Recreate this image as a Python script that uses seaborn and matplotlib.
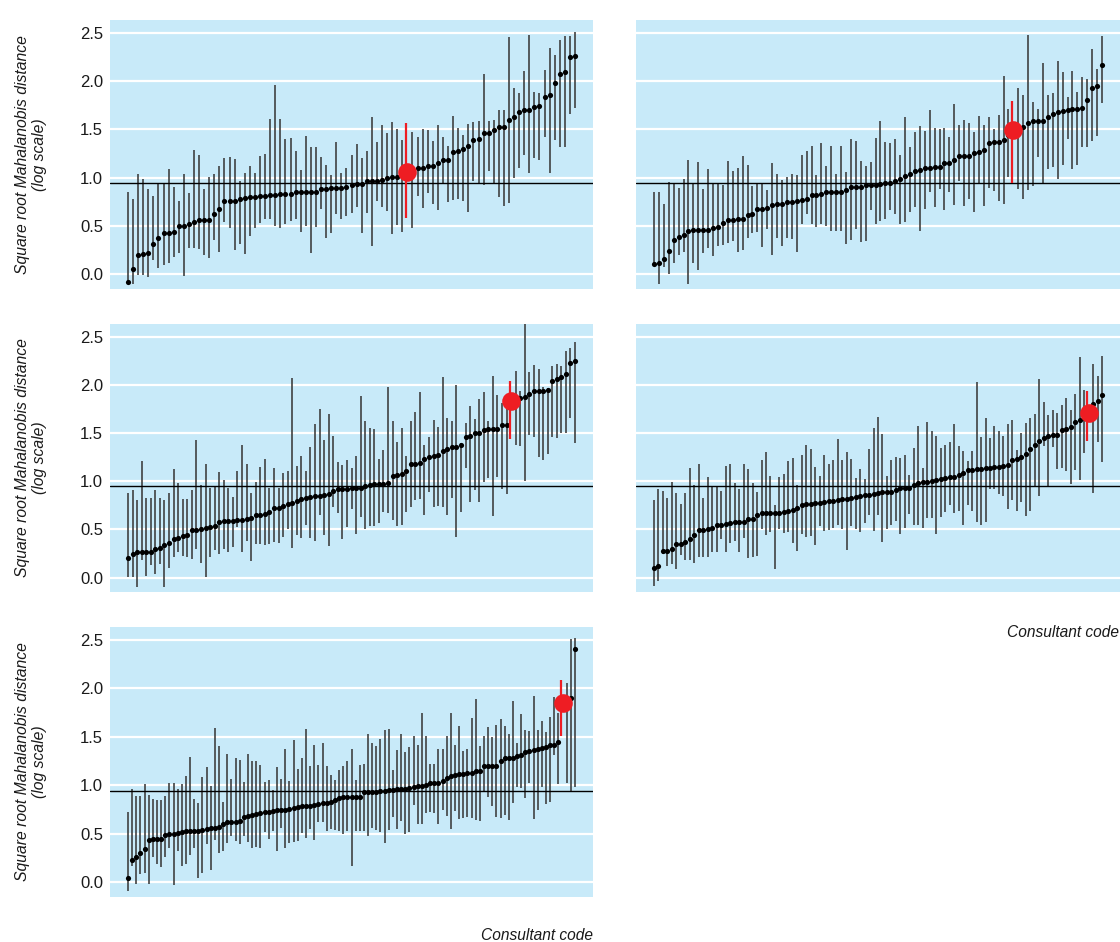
import numpy as np
import pandas as pd
import matplotlib
matplotlib.use("Agg")
import matplotlib.pyplot as plt
import seaborn as sns

# ---- data: sorted point estimates with lower / upper limits, one red index per panel ----
p1_mid = [-0.08, 0.06, 0.20, 0.21, 0.22, 0.32, 0.38, 0.43, 0.43, 0.44,
          0.50, 0.50, 0.52, 0.54, 0.56, 0.56, 0.56, 0.63, 0.68, 0.76,
          0.76, 0.76, 0.78, 0.79, 0.80, 0.80, 0.81, 0.81, 0.82, 0.82,
          0.83, 0.83, 0.83, 0.85, 0.85, 0.85, 0.85, 0.85, 0.88, 0.88,
          0.89, 0.89, 0.89, 0.90, 0.92, 0.93, 0.93, 0.97, 0.97, 0.97,
          0.98, 1.00, 1.01, 1.01, 1.02, 1.06, 1.09, 1.10, 1.10, 1.12,
          1.12, 1.15, 1.18, 1.18, 1.27, 1.28, 1.30, 1.33, 1.39, 1.40,
          1.46, 1.46, 1.49, 1.52, 1.52, 1.60, 1.63, 1.68, 1.70, 1.70,
          1.73, 1.74, 1.83, 1.85, 1.98, 2.07, 2.09, 2.25, 2.26]
p1_hi = [0.85, 0.78, 1.04, 0.99, 0.88, 0.81, 0.93, 0.94, 1.09, 0.90,
         0.76, 1.04, 0.84, 1.29, 1.23, 0.88, 1.01, 1.04, 1.12, 1.20,
         1.21, 1.19, 0.97, 1.05, 1.12, 1.05, 1.22, 1.25, 1.61, 1.96,
         1.61, 1.40, 1.41, 1.28, 1.08, 1.43, 1.32, 1.32, 1.21, 1.13,
         1.03, 1.37, 1.05, 1.10, 1.23, 1.35, 1.20, 1.28, 1.63, 1.37,
         1.55, 1.46, 1.58, 1.50, 1.39, 1.57, 1.47, 1.42, 1.50, 1.49,
         1.38, 1.54, 1.42, 1.33, 1.64, 1.51, 1.44, 1.56, 1.58, 1.59,
         2.07, 1.59, 1.60, 1.70, 1.70, 2.45, 1.93, 1.88, 2.10, 2.47,
         1.89, 1.88, 2.11, 2.34, 2.27, 2.42, 2.46, 2.46, 2.51]
p1_lo = [-0.10, -0.10, -0.01, -0.01, -0.03, 0.15, 0.07, 0.10, 0.12, 0.18,
         0.22, -0.02, 0.27, 0.27, 0.26, 0.20, 0.17, 0.36, 0.23, 0.54,
         0.48, 0.25, 0.32, 0.21, 0.40, 0.48, 0.53, 0.57, 0.57, 0.50,
         0.48, 0.52, 0.55, 0.57, 0.44, 0.50, 0.22, 0.49, 0.68, 0.38,
         0.43, 0.62, 0.57, 0.60, 0.64, 0.70, 0.43, 0.64, 0.29, 0.76,
         0.70, 0.66, 0.42, 0.51, 0.44, 0.58, 0.48, 0.81, 0.69, 0.84,
         0.73, 0.67, 0.95, 0.75, 0.77, 0.78, 0.76, 0.65, 0.97, 0.93,
         0.92, 1.07, 0.93, 0.80, 0.71, 0.74, 1.00, 1.10, 1.23, 1.05,
         1.20, 1.18, 1.42, 1.05, 1.39, 1.32, 1.32, 1.66, 1.72]
p1_red = 55

p2_mid = [0.11, 0.12, 0.16, 0.24, 0.36, 0.39, 0.41, 0.45, 0.46, 0.46,
          0.46, 0.46, 0.48, 0.49, 0.53, 0.56, 0.56, 0.57, 0.57, 0.61,
          0.62, 0.68, 0.68, 0.69, 0.72, 0.73, 0.73, 0.75, 0.75, 0.76,
          0.77, 0.78, 0.82, 0.82, 0.83, 0.85, 0.85, 0.85, 0.85, 0.87,
          0.90, 0.90, 0.90, 0.92, 0.92, 0.92, 0.93, 0.95, 0.95, 0.97,
          0.99, 1.02, 1.04, 1.07, 1.08, 1.10, 1.10, 1.11, 1.11, 1.15,
          1.15, 1.18, 1.22, 1.22, 1.22, 1.26, 1.27, 1.29, 1.36, 1.37,
          1.37, 1.39, 1.44, 1.49, 1.50, 1.52, 1.57, 1.59, 1.59, 1.59,
          1.63, 1.66, 1.68, 1.69, 1.70, 1.71, 1.71, 1.72, 1.80, 1.93,
          1.95, 2.17]
p2_hi = [0.85, 0.85, 0.73, 0.96, 0.94, 0.89, 0.99, 1.18, 0.94, 1.16,
         0.88, 1.09, 0.95, 0.93, 0.92, 1.17, 1.07, 1.10, 1.22, 1.13,
         0.91, 0.94, 0.95, 0.87, 1.15, 1.04, 0.98, 1.01, 1.04, 1.03,
         1.23, 1.28, 1.33, 1.03, 1.36, 1.12, 1.33, 1.04, 1.33, 1.06,
         1.40, 1.38, 1.17, 1.12, 1.16, 1.41, 1.59, 1.37, 1.36, 1.40,
         1.24, 1.63, 1.32, 1.47, 1.53, 1.48, 1.70, 1.51, 1.50, 1.51,
         1.42, 1.76, 1.54, 1.60, 1.57, 1.47, 1.64, 1.55, 1.63, 1.50,
         1.65, 2.05, 1.71, 1.79, 1.93, 1.85, 2.48, 1.78, 1.71, 2.19,
         1.86, 1.88, 2.21, 2.09, 1.83, 2.10, 1.89, 2.04, 2.02, 2.33,
         2.12, 2.46]
p2_lo = [0.10, -0.10, 0.08, 0.01, 0.12, 0.20, 0.23, -0.10, 0.12, 0.05,
         0.22, 0.27, 0.19, 0.29, 0.30, 0.33, 0.35, 0.23, 0.25, 0.38,
         0.43, 0.44, 0.28, 0.47, 0.20, 0.38, 0.29, 0.38, 0.37, 0.23,
         0.52, 0.63, 0.52, 0.49, 0.52, 0.50, 0.45, 0.45, 0.45, 0.32,
         0.36, 0.47, 0.34, 0.35, 0.67, 0.52, 0.55, 0.57, 0.67, 0.62,
         0.52, 0.54, 0.65, 0.70, 0.45, 0.68, 0.85, 0.70, 0.88, 0.67,
         0.85, 0.72, 0.97, 0.71, 0.78, 0.65, 0.94, 0.71, 0.89, 0.86,
         0.76, 0.73, 1.01, 0.95, 0.88, 0.78, 0.87, 0.91, 1.21, 0.95,
         1.09, 1.11, 0.99, 1.13, 1.40, 1.09, 1.13, 1.32, 1.32, 1.38,
         1.43, 1.77]
p2_red = 73

p3_mid = [0.20, 0.24, 0.26, 0.27, 0.27, 0.27, 0.30, 0.31, 0.34, 0.36,
          0.40, 0.41, 0.43, 0.44, 0.49, 0.49, 0.50, 0.51, 0.52, 0.53,
          0.58, 0.59, 0.59, 0.59, 0.60, 0.60, 0.61, 0.62, 0.65, 0.65,
          0.66, 0.68, 0.72, 0.72, 0.74, 0.76, 0.77, 0.79, 0.81, 0.82,
          0.84, 0.85, 0.85, 0.86, 0.87, 0.90, 0.92, 0.92, 0.92, 0.93,
          0.93, 0.93, 0.95, 0.96, 0.97, 0.97, 0.97, 0.98, 1.05, 1.06,
          1.07, 1.10, 1.18, 1.18, 1.19, 1.23, 1.25, 1.26, 1.27, 1.31,
          1.33, 1.35, 1.35, 1.37, 1.46, 1.47, 1.50, 1.50, 1.53, 1.54,
          1.54, 1.54, 1.58, 1.58, 1.83, 1.84, 1.86, 1.87, 1.90, 1.93,
          1.93, 1.94, 1.95, 2.04, 2.06, 2.08, 2.11, 2.23, 2.25]
p3_hi = [0.88, 0.91, 0.80, 1.21, 0.82, 0.82, 0.91, 0.83, 0.80, 0.88,
         1.13, 0.98, 0.81, 0.81, 0.91, 1.43, 0.96, 1.18, 0.93, 0.94,
         1.09, 1.01, 0.93, 0.84, 1.11, 1.38, 1.18, 0.88, 0.99, 1.15,
         1.23, 0.93, 1.14, 0.93, 1.08, 1.11, 2.07, 1.16, 1.26, 1.11,
         1.35, 1.59, 1.75, 1.43, 1.70, 1.47, 1.20, 1.17, 1.22, 1.14,
         1.26, 1.88, 1.62, 1.55, 1.54, 1.23, 1.32, 1.98, 1.62, 1.41,
         1.55, 1.26, 1.62, 1.72, 1.92, 1.38, 1.46, 1.63, 1.56, 2.08,
         1.65, 1.62, 2.00, 1.40, 1.60, 1.78, 1.64, 1.85, 1.92, 1.62,
         2.09, 1.89, 1.81, 1.82, 2.04, 2.14, 1.94, 2.70, 2.13, 2.20,
         2.16, 1.98, 1.97, 2.19, 2.21, 2.19, 2.35, 2.38, 2.44]
p3_lo = [0.01, 0.01, -0.10, 0.18, 0.02, 0.13, 0.04, 0.14, -0.10, 0.10,
         0.21, 0.27, 0.22, 0.21, 0.19, 0.30, 0.15, 0.01, 0.21, 0.29,
         0.24, 0.30, 0.26, 0.32, 0.52, 0.27, 0.38, 0.17, 0.35, 0.35,
         0.34, 0.35, 0.37, 0.36, 0.42, 0.50, 0.31, 0.44, 0.41, 0.54,
         0.41, 0.38, 0.65, 0.44, 0.33, 0.73, 0.67, 0.40, 0.52, 0.71,
         0.45, 0.63, 0.50, 0.53, 0.53, 0.57, 0.68, 0.67, 0.60, 0.53,
         0.54, 0.68, 0.73, 0.80, 0.81, 0.65, 0.89, 0.73, 0.74, 0.73,
         0.65, 0.82, 0.42, 0.68, 1.14, 0.78, 0.91, 0.78, 0.99, 1.03,
         0.64, 1.04, 0.92, 0.87, 1.44, 1.37, 1.36, 1.00, 1.48, 1.46,
         1.25, 1.22, 1.28, 1.46, 1.45, 1.50, 1.50, 1.66, 1.40]
p3_red = 84

p4_mid = [0.10, 0.12, 0.28, 0.28, 0.30, 0.35, 0.35, 0.37, 0.40, 0.44,
          0.49, 0.49, 0.50, 0.51, 0.54, 0.55, 0.56, 0.57, 0.58, 0.58,
          0.58, 0.61, 0.61, 0.65, 0.67, 0.67, 0.67, 0.67, 0.67, 0.68,
          0.69, 0.70, 0.72, 0.75, 0.76, 0.76, 0.77, 0.77, 0.78, 0.79,
          0.79, 0.80, 0.81, 0.81, 0.82, 0.84, 0.85, 0.86, 0.86, 0.87,
          0.88, 0.89, 0.89, 0.89, 0.91, 0.93, 0.93, 0.93, 0.96, 0.98,
          0.99, 0.99, 1.00, 1.01, 1.02, 1.03, 1.04, 1.04, 1.06, 1.08,
          1.12, 1.12, 1.13, 1.13, 1.14, 1.14, 1.15, 1.15, 1.16, 1.17,
          1.22, 1.23, 1.25, 1.28, 1.33, 1.38, 1.42, 1.45, 1.47, 1.48,
          1.48, 1.53, 1.54, 1.56, 1.61, 1.63, 1.66, 1.71, 1.80, 1.83,
          1.89]
p4_hi = [0.80, 0.92, 0.90, 0.83, 0.99, 0.88, 0.76, 0.88, 1.14, 0.96,
         1.18, 0.82, 1.04, 0.94, 0.94, 0.90, 1.16, 1.18, 0.98, 0.92,
         1.18, 1.13, 0.98, 0.89, 1.22, 1.30, 1.05, 0.75, 1.04, 1.07,
         1.21, 1.24, 0.96, 1.27, 1.38, 1.33, 1.15, 1.05, 1.27, 1.18,
         1.22, 1.44, 1.22, 1.30, 1.23, 1.03, 1.13, 1.02, 1.33, 1.55,
         1.67, 1.49, 1.05, 1.22, 1.25, 1.24, 1.27, 1.06, 1.34, 1.57,
         1.14, 1.61, 1.52, 1.47, 1.34, 1.38, 1.41, 1.59, 1.36, 1.31,
         1.21, 1.31, 2.03, 1.46, 1.66, 1.45, 1.57, 1.52, 1.47, 1.59,
         1.63, 1.32, 1.50, 1.60, 1.65, 1.70, 2.06, 1.82, 1.69, 1.74,
         1.71, 1.79, 1.86, 1.74, 1.90, 2.29, 1.95, 1.94, 2.21, 2.09,
         2.30]
p4_lo = [-0.09, -0.04, 0.24, 0.12, 0.14, 0.09, 0.23, 0.18, 0.18, 0.15,
         0.21, 0.21, 0.21, 0.27, 0.27, 0.40, 0.26, 0.36, 0.38, 0.27,
         0.41, 0.20, 0.21, 0.22, 0.50, 0.44, 0.47, 0.09, 0.50, 0.46,
         0.47, 0.36, 0.28, 0.45, 0.42, 0.43, 0.34, 0.53, 0.48, 0.49,
         0.51, 0.55, 0.50, 0.29, 0.53, 0.50, 0.47, 0.57, 0.65, 0.48,
         0.65, 0.37, 0.50, 0.54, 0.59, 0.45, 0.51, 0.66, 0.54, 0.54,
         0.51, 0.62, 0.62, 0.45, 0.63, 0.68, 0.75, 0.67, 0.69, 0.55,
         0.75, 0.69, 0.58, 0.54, 0.58, 0.92, 0.92, 0.87, 0.85, 0.71,
         0.80, 0.69, 0.78, 0.64, 0.69, 0.94, 0.85, 1.36, 0.94, 1.35,
         1.13, 1.14, 1.11, 0.97, 1.12, 1.01, 1.29, 1.42, 0.88, 1.41,
         1.20]
p4_red = 97

p5_mid = [0.05, 0.23, 0.26, 0.30, 0.34, 0.44, 0.45, 0.45, 0.45, 0.49,
          0.50, 0.50, 0.51, 0.52, 0.53, 0.53, 0.53, 0.53, 0.54, 0.55,
          0.56, 0.56, 0.57, 0.60, 0.62, 0.62, 0.62, 0.63, 0.67, 0.68,
          0.69, 0.70, 0.71, 0.73, 0.73, 0.74, 0.75, 0.75, 0.75, 0.76,
          0.77, 0.78, 0.79, 0.79, 0.79, 0.80, 0.81, 0.82, 0.82, 0.83,
          0.85, 0.87, 0.88, 0.88, 0.88, 0.88, 0.88, 0.93, 0.93, 0.93,
          0.93, 0.94, 0.94, 0.95, 0.95, 0.96, 0.96, 0.96, 0.97, 0.98,
          0.99, 0.99, 1.00, 1.02, 1.02, 1.02, 1.04, 1.08, 1.10, 1.11,
          1.12, 1.12, 1.13, 1.13, 1.15, 1.15, 1.20, 1.20, 1.20, 1.20,
          1.25, 1.28, 1.28, 1.28, 1.30, 1.31, 1.34, 1.35, 1.36, 1.37,
          1.38, 1.39, 1.41, 1.42, 1.45, 1.85, 1.86, 1.90, 2.40]
p5_hi = [0.73, 0.96, 0.89, 0.89, 1.01, 0.90, 0.86, 0.85, 0.85, 0.89,
         1.02, 1.02, 0.96, 1.01, 1.10, 1.29, 0.86, 0.82, 1.09, 1.19,
         0.99, 1.59, 1.40, 0.83, 1.32, 1.07, 1.28, 1.26, 1.03, 1.32,
         1.25, 1.25, 1.21, 1.03, 1.05, 0.95, 1.19, 1.06, 1.37, 1.04,
         1.47, 1.17, 1.28, 1.58, 1.20, 1.41, 1.21, 1.44, 1.20, 1.11,
         1.05, 1.16, 1.20, 1.25, 1.37, 1.05, 1.21, 1.22, 1.53, 1.44,
         1.40, 1.48, 1.57, 1.58, 1.16, 1.36, 1.53, 1.34, 1.39, 1.51,
         1.42, 1.74, 1.51, 1.22, 1.22, 1.37, 1.37, 1.51, 1.74, 1.42,
         1.61, 1.35, 1.37, 1.69, 1.89, 1.40, 1.51, 1.60, 1.50, 1.62,
         1.68, 1.61, 1.53, 1.87, 1.44, 1.73, 1.57, 1.56, 1.92, 1.57,
         1.66, 1.55, 1.70, 1.91, 1.74, 2.08, 2.05, 2.51, 2.52]
p5_lo = [-0.09, 0.17, -0.02, 0.09, 0.10, -0.02, 0.26, 0.19, 0.16, 0.26,
         0.35, -0.03, 0.32, 0.17, 0.19, 0.28, 0.35, 0.05, 0.10, 0.40,
         0.13, 0.44, 0.30, 0.32, 0.41, 0.48, 0.43, 0.40, 0.48, 0.42,
         0.35, 0.36, 0.35, 0.52, 0.45, 0.53, 0.32, 0.56, 0.35, 0.41,
         0.42, 0.43, 0.51, 0.46, 0.55, 0.44, 0.62, 0.62, 0.53, 0.55,
         0.54, 0.53, 0.50, 0.53, 0.17, 0.53, 0.53, 0.53, 0.48, 0.56,
         0.54, 0.52, 0.41, 0.54, 0.67, 0.55, 0.63, 0.50, 0.52, 0.80,
         0.60, 0.60, 0.71, 0.73, 0.72, 0.60, 0.75, 0.68, 0.55, 0.74,
         0.65, 0.66, 0.67, 0.66, 0.64, 0.63, 0.93, 0.88, 0.79, 0.67,
         0.66, 0.69, 0.64, 0.82, 0.98, 0.97, 0.87, 1.02, 0.65, 0.75,
         0.98, 0.81, 0.83, 1.31, 1.01, 1.51, 1.02, 0.93, 0.98]
p5_red = 105

panels = [
    (p1_mid, p1_lo, p1_hi, p1_red),
    (p2_mid, p2_lo, p2_hi, p2_red),
    (p3_mid, p3_lo, p3_hi, p3_red),
    (p4_mid, p4_lo, p4_hi, p4_red),
    (p5_mid, p5_lo, p5_hi, p5_red),
]
y_ticks = [0.0, 0.5, 1.0, 1.5, 2.0, 2.5]
ref_value = 0.945
y_label = "Square root Mahalanobis distance\n(log scale)"
x_label = "Consultant code"

# ---- style ----
sns.set_theme(style="whitegrid", rc={
    "axes.facecolor": "#c8eaf9",
    "grid.color": "white",
    "grid.linewidth": 1.6,
    "axes.edgecolor": "none",
})
plt.rcParams["font.family"] = ["Liberation Sans", "DejaVu Sans"]
text_col = "#1a1a1a"

W, H = 1120, 942
fig = plt.figure(figsize=(W / 100, H / 100), dpi=100)


def px_rect(x0, y0, x1, y1):
    return [x0 / W, 1 - y1 / H, (x1 - x0) / W, (y1 - y0) / H]


boxes = [
    (110, 20, 593, 289),
    (636, 20, 1120, 289),
    (110, 324, 593, 592),
    (636, 324, 1120, 592),
    (110, 627, 593, 897),
]

for k, ((mid, lo, hi, red), box) in enumerate(zip(panels, boxes)):
    ax = fig.add_axes(px_rect(*box))
    df = pd.DataFrame({"mid": mid, "lo": lo, "hi": hi})
    df["code"] = np.arange(len(df))
    others = df.drop(index=red)
    sel = df.loc[[red]]

    ax.vlines(others["code"], others["lo"], others["hi"], color="#3a3a3a",
              lw=1.15, zorder=2)
    sns.scatterplot(data=others, x="code", y="mid", ax=ax, color="black",
                    s=14, linewidth=0, zorder=3, legend=False)
    ax.vlines(sel["code"] - 0.3, sel["lo"], sel["hi"], color="#ee1d23",
              lw=1.6, zorder=4)
    sns.scatterplot(data=sel, x="code", y="mid", ax=ax, color="#ee1d23",
                    s=180, linewidth=0, zorder=5, legend=False)
    ax.axhline(ref_value, color="black", lw=1.0, zorder=2.5)

    n = len(df) - 1
    pad = 0.0402 * n
    ax.set_xlim(-pad, n + pad)
    ax.set_ylim(-0.15, 2.63)
    ax.set_yticks(y_ticks)
    ax.set_xticks([])
    ax.grid(axis="x", visible=False)
    ax.tick_params(axis="y", length=0, pad=5, labelsize=12,
                   labelcolor=text_col)
    ax.set_xlabel("")
    if k % 2 == 0:
        ax.set_yticklabels([f"{t:.1f}" for t in y_ticks])
        ax.set_ylabel(y_label, fontsize=11.3, style="italic",
                      linespacing=1.2, color=text_col)
        ax.yaxis.set_label_coords(-0.13, 0.5)
    else:
        ax.set_yticklabels([])
        ax.set_ylabel("")
    for s in ax.spines.values():
        s.set_visible(False)

fig.text(593 / W, 1 - 940 / H, x_label, ha="right", va="baseline",
         fontsize=11.2, style="italic", color=text_col)
fig.text(1119 / W, 1 - 637 / H, x_label, ha="right", va="baseline",
         fontsize=11.2, style="italic", color=text_col)

fig.savefig("out.png", dpi=100)
